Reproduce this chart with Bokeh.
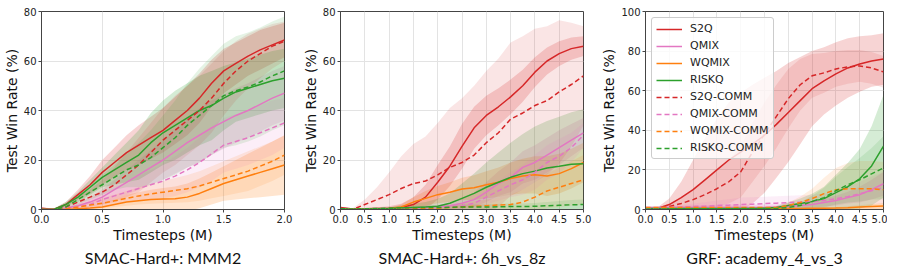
import numpy as np
from bokeh.plotting import figure
from bokeh.layouts import row
from bokeh.models import (FixedTicker, PrintfTickFormatter, Title, Legend,
                          LegendItem, Range1d)
from bokeh.embed import file_html
from bokeh.resources import INLINE

# ---------------- data ----------------
methods = ["S2Q", "QMIX", "WQMIX", "RISKQ",
           "S2Q-COMM", "QMIX-COMM", "WQMIX-COMM", "RISKQ-COMM"]

titles = ["SMAC-Hard+: MMM2", "SMAC-Hard+: 6h_vs_8z", "GRF: academy_4_vs_3"]

# Panel 1: MMM2 (0..2 M, step 0.1)
mmm2_x = [0.0, 0.1, 0.2, 0.3, 0.4, 0.5, 0.6, 0.7, 0.8, 0.9, 1.0,
          1.1, 1.2, 1.3, 1.4, 1.5, 1.6, 1.7, 1.8, 1.9, 2.0]
mmm2_s2q = [0.5, 0, 2, 6, 10, 15, 19, 23, 26, 29, 32, 36, 40, 45, 51, 56, 59, 62, 64.5, 66.5, 68.5]
mmm2_s2q_std = [0.5, 0.3, 1, 2, 3.5, 5, 6, 7, 8, 8.5, 9, 9.5, 10, 10, 9.5, 9, 8.5, 8, 8, 7.5, 7]
mmm2_qmix = [0, 0, 0.5, 1.5, 3, 5, 8, 11, 14, 17, 20, 23.5, 27, 30, 33, 35.5, 38, 40, 42.5, 45, 47]
mmm2_qmix_std = [0.2, 0.2, 0.5, 1, 2, 3, 4, 5, 6, 7, 8, 9, 10, 11, 11, 11, 11, 11, 11, 11, 11]
mmm2_wqmix = [0, 0, 0, 0.3, 0.6, 1, 2, 3, 3.5, 4, 4.2, 4.3, 5, 6.5, 8.5, 10.5, 12, 13.5, 15, 16.5, 18]
mmm2_wqmix_std = [0.1, 0.1, 0.3, 0.5, 1, 1.5, 2, 3, 3.5, 4, 4.5, 5, 5.5, 6, 6.5, 7, 8, 9, 10, 11, 12]
mmm2_riskq = [0, 0, 2, 5, 9, 13, 16, 19, 22, 27, 31, 34, 37, 40, 42, 45, 47.5, 49, 50.5, 52, 53]
mmm2_riskq_std = [0.3, 0.3, 1, 2, 3, 4, 6, 8, 10, 12, 13, 14, 14, 14, 14, 13, 12, 12, 12, 12, 12]
mmm2_s2q_comm = [0, 0, 1, 3, 5, 7, 10, 14, 18, 23, 28, 32, 36, 40, 45, 51, 56, 60, 63, 66, 68]
mmm2_s2q_comm_std = [0.3, 0.3, 1, 2, 3, 5, 7, 9, 11, 12, 13, 14, 14, 14, 14, 13, 12, 11, 10, 9, 8]
mmm2_qmix_comm = [0, 0, 0.5, 1, 2, 4, 5.5, 7, 8.5, 10, 11.5, 13.5, 16, 19, 22.5, 26, 27.5, 29, 31, 33, 35]
mmm2_qmix_comm_std = [0.2, 0.2, 0.5, 1, 2, 3, 3.5, 4, 5, 6, 7, 8, 9, 10, 11, 11, 11, 11, 11, 11, 10]
mmm2_wqmix_comm = [0, 0, 0.3, 1, 1.8, 2.5, 3.5, 4.5, 5.5, 6.3, 7, 7.7, 8.4, 9.5, 11, 12.5, 14, 15.5, 17.5, 19.5, 22]
mmm2_wqmix_comm_std = [0.1, 0.1, 0.5, 1, 1.5, 2, 2.5, 3, 3.5, 4, 4.5, 5, 5.5, 6, 6.5, 7, 7.5, 8, 8, 8, 8]
mmm2_riskq_comm = [0, 0, 1, 4, 7, 10, 13, 16, 18, 21, 25, 29, 34, 38, 42, 46, 48, 49.5, 51.5, 54, 56]
mmm2_riskq_comm_std = [0.3, 0.3, 1, 2, 3, 4, 5, 7, 9, 11, 13, 15, 17, 19, 20, 21, 22, 22, 22, 22, 22]

# Panel 2: 6h_vs_8z (0..5 M, step 0.25)
h6_x = [0.0, 0.25, 0.5, 0.75, 1.0, 1.25, 1.5, 1.75, 2.0, 2.25, 2.5,
        2.75, 3.0, 3.25, 3.5, 3.75, 4.0, 4.25, 4.5, 4.75, 5.0]
h6_s2q = [0.8, 0.2, 0.3, 0.4, 0.5, 0.8, 2, 5, 11, 17.5, 25.5, 33, 38, 41.5, 45.5, 50, 55.5, 60, 63, 65, 66]
h6_s2q_std = [0.3, 0.2, 0.3, 0.5, 0.8, 1.5, 3, 5, 7, 8, 9, 8.5, 8, 7.5, 7, 6.5, 6, 5.5, 5, 4.5, 4]
h6_qmix = [0.3, 0.2, 0.2, 0.2, 0.3, 0.4, 0.5, 0.7, 1, 1.5, 2.5, 4, 7, 10.5, 13, 17, 19, 22, 25, 28, 31]
h6_qmix_std = [0.1, 0.1, 0.1, 0.1, 0.2, 0.3, 0.4, 0.5, 0.8, 1.2, 2, 3, 4, 5, 6, 6.5, 7, 7, 7, 6.5, 6]
h6_wqmix = [0.3, 0.2, 0.2, 0.3, 0.4, 1, 3, 4.5, 6, 7, 8.3, 8.8, 10, 11, 12.5, 13.5, 14, 13.5, 14.5, 16.5, 19]
h6_wqmix_std = [0.1, 0.1, 0.1, 0.2, 0.3, 1, 2, 3, 3.5, 4, 4.5, 5, 5.5, 6, 6.5, 7, 7.5, 8, 8, 8, 8]
h6_riskq = [0.3, 0.2, 0.2, 0.3, 0.4, 0.6, 0.8, 1, 1.3, 2.5, 4.5, 6.5, 9, 11, 13, 14.5, 15.5, 16.8, 17.5, 18.3, 18.5]
h6_riskq_std = [0.1, 0.1, 0.2, 0.3, 0.5, 1, 1.5, 2, 3, 4, 6, 8, 10, 12, 14, 16, 18, 19, 20, 21, 22]
h6_s2q_comm = [0, 0, 2, 4, 6, 8.5, 10.5, 11.5, 14, 17, 19, 22, 27, 31, 36.5, 39, 42, 44, 47.5, 50.5, 54]
h6_s2q_comm_std = [0.3, 0.5, 2, 5, 9, 13, 16, 18, 21, 24, 26, 28, 29, 30, 31, 31, 31, 30, 29, 25, 20]
h6_qmix_comm = [0.3, 0.2, 0.2, 0.2, 0.2, 0.3, 0.4, 0.5, 0.7, 1, 1.5, 2.5, 5, 7.5, 10, 12, 15, 19, 21.5, 25, 30]
h6_qmix_comm_std = [0.1, 0.1, 0.1, 0.1, 0.1, 0.2, 0.3, 0.4, 0.5, 0.8, 1.2, 2, 3, 4, 5, 6, 7, 7, 7, 6, 5]
h6_wqmix_comm = [0.3, 0.2, 0.2, 0.2, 0.2, 0.3, 0.3, 0.4, 0.5, 0.8, 1, 1.3, 1.5, 1.8, 2, 3, 5, 7.5, 9, 10.5, 12]
h6_wqmix_comm_std = [0.1, 0.1, 0.1, 0.1, 0.1, 0.2, 0.3, 0.4, 0.5, 1, 1.5, 2, 2.5, 3, 4, 5, 6, 7, 8, 9, 10]
h6_riskq_comm = [0.3, 0.2, 0.3, 0.4, 0.5, 0.6, 0.7, 0.8, 0.8, 0.9, 1, 1, 1, 1.1, 1.2, 1.2, 1.3, 1.5, 1.7, 1.9, 2]
h6_riskq_comm_std = [0.1, 0.1, 0.2, 0.3, 0.4, 0.5, 0.6, 0.7, 0.8, 0.9, 1, 1, 1, 1.1, 1.2, 1.2, 1.3, 1.5, 1.7, 1.9, 2]

# Panel 3: academy_4_vs_3 (0..5 M, step 0.25)
grf_x = [0.0, 0.25, 0.5, 0.75, 1.0, 1.25, 1.5, 1.75, 2.0, 2.25, 2.5,
         2.75, 3.0, 3.25, 3.5, 3.75, 4.0, 4.25, 4.5, 4.75, 5.0]
grf_s2q = [0.5, 0.5, 2.5, 6, 10, 15, 20, 25, 29, 33, 37.5, 43, 49, 55, 61, 65, 68.5, 71.5, 73.5, 75, 76]
grf_s2q_std = [0.3, 0.5, 3, 8, 15, 21, 26, 29, 30, 30, 29, 27, 25, 22, 19, 17, 16, 15, 14, 13, 13]
grf_qmix = [1, 1, 1, 1, 1, 1, 1, 1, 1, 1, 1, 1.2, 1.5, 2, 2.5, 3.5, 4.5, 6, 7.5, 10, 13]
grf_qmix_std = [0.5, 0.5, 0.6, 0.8, 1, 1.2, 1.4, 1.5, 1.5, 1.5, 1.5, 1.5, 1.5, 1.5, 1.5, 2, 2.5, 3, 4, 5, 6]
grf_wqmix = [0.3, 0.3, 0.3, 0.3, 0.3, 0.3, 0.3, 0.3, 0.4, 0.4, 0.4, 0.4, 0.5, 0.5, 0.6, 0.6, 0.7, 0.9, 1.2, 1.5, 1.8]
grf_wqmix_std = [0.2, 0.2, 0.2, 0.2, 0.2, 0.2, 0.2, 0.2, 0.2, 0.2, 0.2, 0.3, 0.3, 0.3, 0.4, 0.5, 0.6, 0.8, 1, 1.2, 1.5]
grf_riskq = [0.5, 0.5, 0.5, 0.5, 0.5, 0.5, 0.5, 0.5, 0.5, 0.5, 0.6, 1, 2, 3, 4, 5.5, 8.5, 11.5, 15.5, 22, 32]
grf_riskq_std = [0.3, 0.3, 0.3, 0.3, 0.3, 0.3, 0.3, 0.3, 0.3, 0.3, 0.4, 0.8, 1.5, 2.5, 4, 6, 9, 12, 15, 20, 26]
grf_s2q_comm = [0.3, 0.3, 1.5, 3, 5, 7.5, 10.5, 14, 19, 29, 38, 47, 56, 63, 67.5, 69, 71, 72, 72.5, 71.5, 69.5]
grf_s2q_comm_std = [0.3, 0.4, 1.5, 3, 5, 7, 9, 11, 13, 15, 16, 16, 15, 13, 11, 10, 9, 8.5, 8, 8, 8]
grf_qmix_comm = [0.5, 0.7, 1, 1.2, 1.5, 1.7, 2, 2.2, 2.5, 2.7, 3, 3.2, 3.5, 3.7, 4, 4.5, 5.5, 6.5, 8, 9.5, 11]
grf_qmix_comm_std = [0.3, 0.5, 0.8, 1, 1.5, 2, 2.5, 3, 3.5, 3.5, 3.5, 3.5, 3.5, 3.5, 3.5, 3.5, 4, 5, 6, 7, 8]
grf_wqmix_comm = [1, 1, 1, 1, 1, 1, 1, 1, 1, 1, 1, 1, 2, 3.5, 5.5, 8, 10, 10.5, 10.5, 10.5, 10]
grf_wqmix_comm_std = [0.5, 0.5, 0.5, 0.5, 0.5, 0.5, 0.5, 0.5, 0.5, 0.5, 0.5, 0.6, 1.5, 3, 5, 8, 11, 13, 14, 14, 14]
grf_riskq_comm = [0.3, 0.3, 0.3, 0.3, 0.3, 0.3, 0.4, 0.4, 0.5, 0.5, 0.5, 0.5, 1, 2, 4, 6, 9.5, 12.5, 15, 18, 21]
grf_riskq_comm_std = [0.2, 0.2, 0.2, 0.2, 0.2, 0.2, 0.2, 0.3, 0.3, 0.3, 0.3, 0.4, 0.8, 1.5, 3, 5, 7, 9, 11, 13, 16]

x_ticks_1 = [0.0, 0.5, 1.0, 1.5, 2.0]
x_ticks_2 = [0.0, 0.5, 1.0, 1.5, 2.0, 2.5, 3.0, 3.5, 4.0, 4.5, 5.0]
y_ticks_80 = [0, 20, 40, 60, 80]
y_ticks_100 = [0, 20, 40, 60, 80, 100]

# ---------------- style ----------------
COLORS = {"S2Q": "#d62728", "QMIX": "#e377c2", "WQMIX": "#ff7f0e", "RISKQ": "#2ca02c"}
TICK_FONT = "DejaVu Sans"


def make_panel(x, series, title, x_max, y_max, x_ticks, y_ticks,
               width, left, right, legend=False):
    p = figure(width=width, height=266, output_backend="svg",
               toolbar_location=None,
               x_range=Range1d(0, x_max), y_range=Range1d(0, y_max),
               min_border_left=left, min_border_right=right,
               min_border_top=11, min_border_bottom=0)
    p.background_fill_color = "white"
    p.border_fill_color = "white"
    p.outline_line_color = "#444444"
    p.outline_line_width = 1

    for ax in (p.xaxis[0], p.yaxis[0]):
        ax.axis_line_color = "#444444"
        ax.major_tick_line_color = "#444444"
        ax.major_tick_out = 3
        ax.major_tick_in = 0
        ax.minor_tick_line_color = None
        ax.major_label_text_font = TICK_FONT
        ax.major_label_text_font_size = "10px"
        ax.major_label_text_color = "#222222"
        ax.major_label_standoff = 2
        ax.axis_label_text_font = TICK_FONT
        ax.axis_label_text_font_size = "14px"
        ax.axis_label_text_font_style = "normal"
        ax.axis_label_text_color = "#111111"
        ax.axis_label_standoff = 1

    p.xaxis.ticker = FixedTicker(ticks=x_ticks)
    p.xaxis.formatter = PrintfTickFormatter(format="%.1f")
    p.yaxis.ticker = FixedTicker(ticks=y_ticks)
    p.xaxis.axis_label = "Timesteps (M)"
    p.yaxis.axis_label = "Test Win Rate (%)"

    p.xgrid.grid_line_color = "#e3e3e3"
    p.ygrid.grid_line_color = "#e3e3e3"
    p.xgrid.ticker = FixedTicker(ticks=x_ticks)
    p.ygrid.ticker = FixedTicker(ticks=y_ticks)

    xa = np.array(x, dtype=float)
    # bands
    for name in methods:
        mean, std = series[name]
        m = np.array(mean, dtype=float)
        s = np.array(std, dtype=float)
        base = name.replace("-COMM", "")
        alpha = 0.12 if name.endswith("COMM") else 0.2
        p.varea(x=xa, y1=m - s, y2=m + s, fill_color=COLORS[base],
                fill_alpha=alpha)
    items = []
    for name in methods:
        mean, _ = series[name]
        base = name.replace("-COMM", "")
        dash = "5 3" if name.endswith("COMM") else "solid"
        r = p.line(x=xa, y=np.array(mean, dtype=float), line_color=COLORS[base],
                   line_width=1.5, line_dash=dash)
        items.append(LegendItem(label=name, renderers=[r]))

    if legend:
        lg = Legend(items=items, location="top_left")
        lg.margin = 6
        lg.padding = 4
        lg.spacing = 4
        lg.glyph_width = 26
        lg.glyph_height = 12
        lg.label_height = 12
        lg.label_standoff = 8
        lg.label_text_font = TICK_FONT
        lg.label_text_font_size = "11px"
        lg.label_text_color = "#222222"
        lg.border_line_color = "#cccccc"
        lg.border_line_alpha = 1.0
        lg.background_fill_alpha = 0.8
        try:
            lg.border_radius = 3
        except Exception:
            pass
        p.add_layout(lg)

    t = Title(text=title, align="center", text_font="Lato",
              text_font_size="16px", text_font_style="normal",
              text_color="#111111", standoff=0, text_line_height=1.0)
    p.add_layout(t, "below")
    return p


s1 = {
    "S2Q": (mmm2_s2q, mmm2_s2q_std), "QMIX": (mmm2_qmix, mmm2_qmix_std),
    "WQMIX": (mmm2_wqmix, mmm2_wqmix_std), "RISKQ": (mmm2_riskq, mmm2_riskq_std),
    "S2Q-COMM": (mmm2_s2q_comm, mmm2_s2q_comm_std),
    "QMIX-COMM": (mmm2_qmix_comm, mmm2_qmix_comm_std),
    "WQMIX-COMM": (mmm2_wqmix_comm, mmm2_wqmix_comm_std),
    "RISKQ-COMM": (mmm2_riskq_comm, mmm2_riskq_comm_std),
}
s2 = {
    "S2Q": (h6_s2q, h6_s2q_std), "QMIX": (h6_qmix, h6_qmix_std),
    "WQMIX": (h6_wqmix, h6_wqmix_std), "RISKQ": (h6_riskq, h6_riskq_std),
    "S2Q-COMM": (h6_s2q_comm, h6_s2q_comm_std),
    "QMIX-COMM": (h6_qmix_comm, h6_qmix_comm_std),
    "WQMIX-COMM": (h6_wqmix_comm, h6_wqmix_comm_std),
    "RISKQ-COMM": (h6_riskq_comm, h6_riskq_comm_std),
}
s3 = {
    "S2Q": (grf_s2q, grf_s2q_std), "QMIX": (grf_qmix, grf_qmix_std),
    "WQMIX": (grf_wqmix, grf_wqmix_std), "RISKQ": (grf_riskq, grf_riskq_std),
    "S2Q-COMM": (grf_s2q_comm, grf_s2q_comm_std),
    "QMIX-COMM": (grf_qmix_comm, grf_qmix_comm_std),
    "WQMIX-COMM": (grf_wqmix_comm, grf_wqmix_comm_std),
    "RISKQ-COMM": (grf_riskq_comm, grf_riskq_comm_std),
}

p1 = make_panel(mmm2_x, s1, titles[0], 2.0, 80, x_ticks_1, y_ticks_80,
                width=299, left=41, right=15)
p2 = make_panel(h6_x, s2, titles[1], 5.0, 80, x_ticks_2, y_ticks_80,
                width=299, left=41, right=15)
p3 = make_panel(grf_x, s3, titles[2], 5.0, 100, x_ticks_2, y_ticks_100,
                width=289, left=46, right=4, legend=True)

layout = row(p1, p2, p3)
open("out.html", "w").write(file_html(layout, INLINE))
